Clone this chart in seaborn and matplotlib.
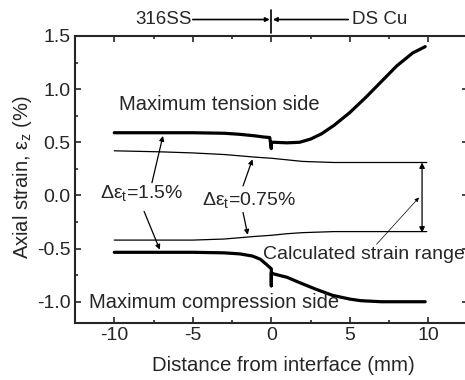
import matplotlib
matplotlib.use("Agg")
import matplotlib.pyplot as plt
import seaborn as sns
import pandas as pd
import numpy as np
from matplotlib.ticker import MultipleLocator

sns.set_style("ticks")
plt.rcParams['font.family'] = ['Liberation Sans', 'DejaVu Sans']
plt.rcParams['mathtext.fontset'] = 'custom'
plt.rcParams['mathtext.rm'] = 'Liberation Sans'
plt.rcParams['mathtext.it'] = 'Liberation Sans'

# Maximum tension side (thick, upper) -- spike at the interface
tens_x = [-10, -7, -5, -3, -2, -1, -0.5, -0.1, 0, 0, 0.2, 1, 1.8, 2.5, 3.2, 4, 5, 6, 7, 8, 9, 9.8]
tens_y = [0.59, 0.59, 0.59, 0.585, 0.575, 0.56, 0.55, 0.545, 0.44, 0.50, 0.50, 0.495, 0.50, 0.53, 0.58, 0.66, 0.78, 0.92, 1.07, 1.22, 1.34, 1.40]

# Maximum compression side (thick, lower)
comp_x = [-10, -7, -5, -3, -2, -1.2, -0.7, -0.3, 0, 0, 0, 0.2, 1, 1.8, 2.8, 3.9, 5, 5.7, 7, 8, 9, 9.8]
comp_y = [-0.535, -0.535, -0.535, -0.54, -0.55, -0.57, -0.60, -0.65, -0.69, -0.85, -0.73, -0.74, -0.77, -0.82, -0.88, -0.94, -0.975, -0.99, -1.0, -1.0, -1.0, -1.0]

# Calculated strain range, Δε_t = 0.75% (thin lines)
thin_up_x = [-10, -7, -5, -3, -1, 0, 1, 2, 3, 4, 6, 8, 9.9]
thin_up_y = [0.42, 0.41, 0.40, 0.385, 0.36, 0.35, 0.335, 0.32, 0.315, 0.31, 0.31, 0.31, 0.31]
thin_lo_x = [-10, -7, -5, -3, -1, 0, 1, 2, 3, 4, 6, 8, 9.9]
thin_lo_y = [-0.42, -0.42, -0.42, -0.41, -0.385, -0.375, -0.36, -0.35, -0.345, -0.34, -0.34, -0.34, -0.34]

fig = plt.figure(figsize=(4.65, 3.8), dpi=100)
ax = fig.add_axes([75/465, 1-323/380, (467.6-75)/465, (323-36)/380])

for xs, ys, lw in [(tens_x, tens_y, 2.3), (comp_x, comp_y, 2.3),
                   (thin_up_x, thin_up_y, 0.9), (thin_lo_x, thin_lo_y, 0.9)]:
    df = pd.DataFrame({"x": xs, "y": ys})
    sns.lineplot(data=df, x="x", y="y", ax=ax, color="black", lw=lw,
                 sort=False, estimator=None)

ax.set_xlim(-12.5, 12.5)
ax.set_ylim(-1.2, 1.5)
ax.xaxis.set_minor_locator(MultipleLocator(2.5))
ax.yaxis.set_minor_locator(MultipleLocator(0.25))
ax.set_xticks([-10, -5, 0, 5, 10])
ax.set_xticklabels(["-10", "-5", "0", "5", "10"])
ax.set_yticks([-1.0, -0.5, 0.0, 0.5, 1.0, 1.5])
ax.set_yticklabels(["-1.0", "-0.5", "0.0", "0.5", "1.0", "1.5"])
ax.tick_params(which='both', direction='in', top=True, right=True, labelsize=14, width=1.2, pad=3)
ax.tick_params(which='major', length=4)
ax.tick_params(which='minor', length=2.5)
for s in ax.spines.values():
    s.set_linewidth(1.5)

ax.set_xlabel("Distance from interface (mm)", fontsize=14.7)
ax.set_ylabel(r"Axial strain, ε$_\mathregular{z}$ (%)", fontsize=14.5)
ax.xaxis.set_label_coords((283 - 75) / (467.6 - 75), -0.115)
ax.yaxis.set_label_coords(-0.105, 0.51)

# text labels
ax.text(-9.7, 0.86, "Maximum tension side", fontsize=14.5, ha='left', va='center')
ax.text(-11.6, -1.01, "Maximum compression side", fontsize=14.5, ha='left', va='center')
ax.text(-10.9, 0.02, r"Δε$_\mathregular{t}$=1.5%", fontsize=14, ha='left', va='center')
ax.text(-4.4, -0.04, r"Δε$_\mathregular{t}$=0.75%", fontsize=14, ha='left', va='center')
ax.text(-0.5, -0.56, "Calculated strain range", fontsize=14, ha='left', va='center')

# arrows
ap = dict(arrowstyle='-|>', color='black', lw=0.9, mutation_scale=7, shrinkA=0, shrinkB=0)
ax.annotate("", xy=(-6.9, 0.56), xytext=(-7.6, 0.12), arrowprops=ap)
ax.annotate("", xy=(-7.1, -0.51), xytext=(-8.1, -0.15), arrowprops=ap)
ax.annotate("", xy=(-1.2, 0.34), xytext=(-1.8, 0.09), arrowprops=ap)
ax.annotate("", xy=(-1.5, -0.37), xytext=(-1.8, -0.16), arrowprops=ap)
ax.annotate("", xy=(9.6, 0.31), xytext=(9.6, -0.35),
            arrowprops=dict(arrowstyle='<|-|>', color='black', lw=0.9, mutation_scale=8, shrinkA=0, shrinkB=0))
ax.annotate("", xy=(9.4, -0.02), xytext=(6.7, -0.46),
            arrowprops=dict(arrowstyle='-|>', color='black', lw=0.5, mutation_scale=6, shrinkA=0, shrinkB=0))

# top region annotations (outside axes)
ax.text(-6.85, 1.655, "316SS", fontsize=13.5, ha='center', va='center', clip_on=False)
ax.text(6.9, 1.655, "DS Cu", fontsize=13.5, ha='center', va='center', clip_on=False)
ax.annotate("", xy=(-0.1, 1.655), xytext=(-5.0, 1.655), annotation_clip=False,
            arrowprops=dict(arrowstyle='-|>', color='black', lw=1.2, mutation_scale=6, shrinkA=0, shrinkB=0))
ax.annotate("", xy=(0.1, 1.655), xytext=(4.9, 1.655), annotation_clip=False,
            arrowprops=dict(arrowstyle='-|>', color='black', lw=1.2, mutation_scale=6, shrinkA=0, shrinkB=0))
ax.plot([0, 0], [1.53, 1.745], color='black', lw=1.2, clip_on=False)

fig.savefig("out.png", dpi=100)
